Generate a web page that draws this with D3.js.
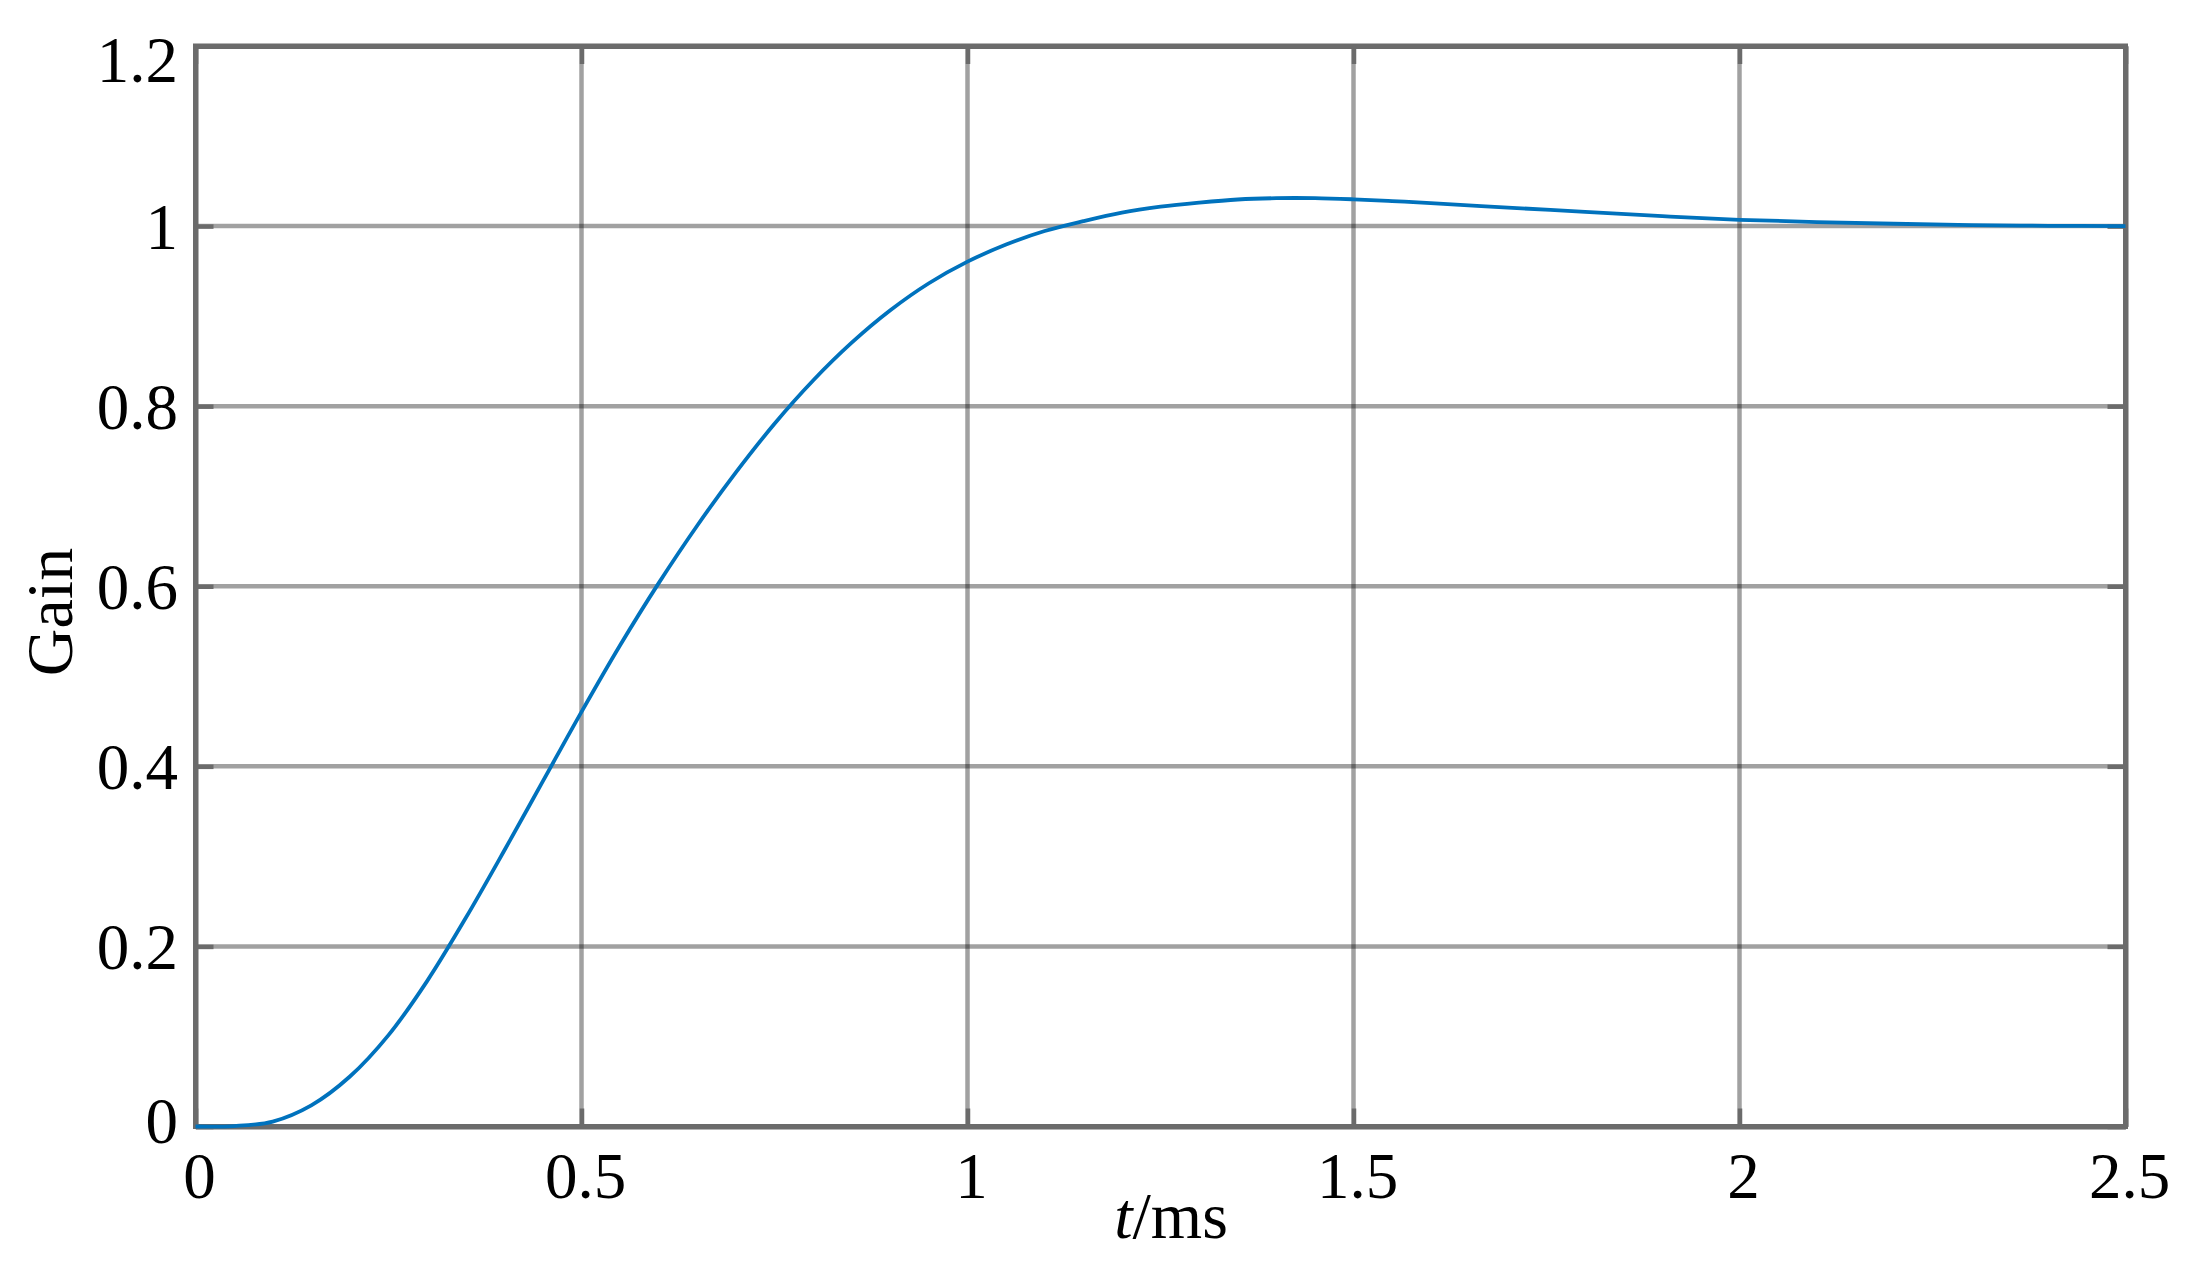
<!DOCTYPE html>
<html>
<head>
<meta charset="utf-8">
<script src="https://cdn.jsdelivr.net/npm/d3@7"></script>
<style>
  html, body { margin: 0; padding: 0; background: #ffffff; }
  svg { display: block; }
  text { font-family: "Liberation Serif", "Times New Roman", serif; fill: #000; }
</style>
</head>
<body>
<svg id="chart" width="2187" height="1262"></svg>
<script>
// ---- data ----
const timeMs = [0, 0.05, 0.10, 0.15, 0.20, 0.25, 0.30, 0.35, 0.40, 0.45, 0.50, 0.55, 0.60, 0.65, 0.70,
  0.75, 0.80, 0.85, 0.90, 0.95, 1.00, 1.05, 1.10, 1.15, 1.20, 1.25, 1.30, 1.35, 1.40, 1.45, 1.50,
  1.55, 1.60, 1.70, 1.80, 1.90, 2.00, 2.10, 2.20, 2.30, 2.40, 2.50];
const gain = [0, 0.0005, 0.0055, 0.0235, 0.0555, 0.1015, 0.1615, 0.2315, 0.3065, 0.3835, 0.4605, 0.5345, 0.6035, 0.6675, 0.7265,
  0.7805, 0.8285, 0.8705, 0.9065, 0.9365, 0.9605, 0.9795, 0.9945, 1.0055, 1.0150, 1.0215, 1.0260, 1.0295, 1.0310, 1.0310, 1.0297,
  1.0278, 1.0255, 1.0205, 1.0158, 1.0110, 1.0070, 1.0045, 1.0026, 1.0011, 1.0003, 1.0000];
const xTicks = [0, 0.5, 1, 1.5, 2, 2.5];
const xTickLabels = ["0", "0.5", "1", "1.5", "2", "2.5"];
const yTicks = [0, 0.2, 0.4, 0.6, 0.8, 1, 1.2];
const yTickLabels = ["0", "0.2", "0.4", "0.6", "0.8", "1", "1.2"];
const xDomain = [0, 2.5];
const yDomain = [0, 1.2];

// ---- layout ----
const pLeft = 195.5, pRight = 2125.5, pTop = 46, pBottom = 1126.5;
const svg = d3.select("#chart");
const x = d3.scaleLinear().domain(xDomain).range([pLeft, pRight]);
const y = d3.scaleLinear().domain(yDomain).range([pBottom, pTop]);

const axisColor = "#6b6b6b";
const tickLen = 18;
const fontSize = 65;

// grid
const grid = svg.append("g");
xTicks.slice(1, -1).forEach(v => {
  grid.append("line").attr("x1", x(v)).attr("x2", x(v)).attr("y1", pTop).attr("y2", pBottom)
    .attr("stroke", "#000").attr("stroke-opacity", 0.37).attr("stroke-width", 4.5);
});
yTicks.slice(1, -1).forEach(v => {
  grid.append("line").attr("x1", pLeft).attr("x2", pRight).attr("y1", y(v)).attr("y2", y(v))
    .attr("stroke", "#000").attr("stroke-opacity", 0.37).attr("stroke-width", 4.5);
});

// axes via d3 axis generators (ticks inward), plus mirrored box sides
function styleAxis(g) {
  g.select(".domain").attr("stroke", axisColor).attr("stroke-width", 5);
  g.selectAll(".tick line").attr("stroke", axisColor).attr("stroke-width", 4.5);
  g.selectAll(".tick text").remove();
}
const xAxisB = d3.axisBottom(x).tickValues(xTicks).tickSizeInner(-tickLen).tickSizeOuter(0);
const xAxisT = d3.axisTop(x).tickValues(xTicks).tickSizeInner(-tickLen).tickSizeOuter(0);
const yAxisL = d3.axisLeft(y).tickValues(yTicks).tickSizeInner(-tickLen).tickSizeOuter(0);
const yAxisR = d3.axisRight(y).tickValues(yTicks).tickSizeInner(-tickLen).tickSizeOuter(0);
svg.append("g").attr("transform", `translate(0,${pBottom})`).call(xAxisB).call(styleAxis);
svg.append("g").attr("transform", `translate(0,${pTop})`).call(xAxisT).call(styleAxis);
svg.append("g").attr("transform", `translate(${pLeft},0)`).call(yAxisL).call(styleAxis);
svg.append("g").attr("transform", `translate(${pRight},0)`).call(yAxisR).call(styleAxis);
// square corners
svg.append("rect").attr("x", pLeft).attr("y", pTop).attr("width", pRight - pLeft).attr("height", pBottom - pTop)
  .attr("fill", "none").attr("stroke", axisColor).attr("stroke-width", 5);

// tick labels
svg.append("g").selectAll("text").data(xTicks).join("text")
  .attr("x", d => x(d) + 4).attr("y", 1198)
  .attr("text-anchor", "middle").attr("font-size", fontSize)
  .text((d, i) => xTickLabels[i]);
svg.append("g").selectAll("text").data(yTicks).join("text")
  .attr("x", 178).attr("y", d => y(d))
  .attr("dy", (d, i) => (i === yTicks.length - 1 ? 13 : (i === 0 ? -6 : 0)) + 0.35 * fontSize)
  .attr("text-anchor", "end").attr("font-size", fontSize)
  .text((d, i) => yTickLabels[i]);

// axis labels
const xl = svg.append("text").attr("x", 1171).attr("y", 1238).attr("text-anchor", "middle").attr("font-size", 66);
xl.append("tspan").attr("font-style", "italic").text("t");
xl.append("tspan").text("/ms");
svg.append("text").attr("transform", "translate(72,612) rotate(-90)")
  .attr("text-anchor", "middle").attr("font-size", 66).text("Gain");

// curve
const pts = timeMs.map((t, i) => [t, gain[i]]);
const line = d3.line().x(d => x(d[0])).y(d => y(d[1])).curve(d3.curveCatmullRom.alpha(0.5));
svg.append("path").datum(pts).attr("d", line)
  .attr("fill", "none").attr("stroke", "#0072BD").attr("stroke-width", 3.8)
  .attr("stroke-linejoin", "round");
</script>
</body>
</html>
